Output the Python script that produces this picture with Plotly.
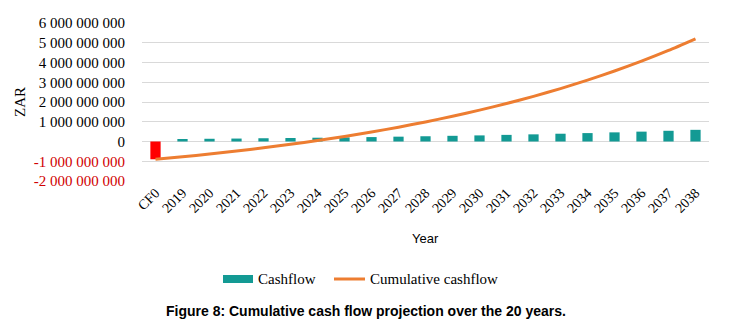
import plotly.graph_objects as go
import numpy as np

categories = ["CF0"] + [str(y) for y in range(2019, 2039)]
cashflow = [-0.90e9, 0.128e9, 0.138e9, 0.149e9, 0.165e9, 0.176e9, 0.192e9, 0.208e9,
            0.224e9, 0.245e9, 0.266e9, 0.288e9, 0.309e9, 0.335e9, 0.362e9, 0.394e9,
            0.426e9, 0.463e9, 0.500e9, 0.543e9, 0.591e9]
cumulative = list(np.cumsum(cashflow))
y_ticks = [-2e9, -1e9, 0, 1e9, 2e9, 3e9, 4e9, 5e9, 6e9]

TEAL = "#139A94"
ORANGE = "#ED7D31"
SERIF = "Liberation Serif, Times New Roman, serif"
SANS = "Liberation Sans, Arial, sans-serif"

def fmt(v):
    s = f"{abs(int(v)):,}".replace(",", " ")
    if v < 0:
        return f"<span style='color:#D00000'>-{s}</span>"
    return s

bar_colors = ["#FF0000" if v < 0 else TEAL for v in cashflow]

fig = go.Figure()
fig.add_trace(go.Bar(x=categories, y=cashflow, marker=dict(color=bar_colors, line=dict(width=0)),
                     name="Cashflow", showlegend=False))
fig.add_trace(go.Scatter(x=categories, y=cumulative, mode="lines",
                         line=dict(color=ORANGE, width=3, shape="spline", smoothing=0.6),
                         name="Cumulative cashflow", showlegend=False))

W, H = 735, 325
L, R, T, B = 142, 26, 23, 144
pw, ph = W - L - R, H - T - B

def px(x):
    return (x - L) / pw

def py(y):
    return (H - B - y) / ph

fig.update_layout(
    width=W, height=H,
    margin=dict(l=L, r=R, t=T, b=B, autoexpand=False),
    paper_bgcolor="white", plot_bgcolor="white",
    bargap=0.62,
    showlegend=False,
    xaxis=dict(tickangle=-45, tickfont=dict(family=SERIF, size=14, color="#000"),
               showgrid=False, showline=False, ticks="", zeroline=False, automargin=False),
    yaxis=dict(range=[-2e9, 6e9], tickvals=y_ticks, ticktext=[fmt(v) for v in y_ticks],
               tickfont=dict(family=SERIF, size=15, color="#000"),
               showgrid=True, gridcolor="#D9D9D9", gridwidth=1,
               zeroline=True, zerolinecolor="#D9D9D9", zerolinewidth=1,
               showline=False, ticks="", ticklabelstandoff=16, automargin=False),
    font=dict(family=SERIF),
)

def ann(text, x, y, size, family, xanchor="center", angle=0):
    return dict(text=text, x=px(x), y=py(y), xref="paper", yref="paper", showarrow=False,
                xanchor=xanchor, yanchor="middle", textangle=angle,
                font=dict(family=family, size=size, color="#000"))

annotations = [
    ann("ZAR", 20, 102, 15, SERIF, angle=-90),
    ann("Year", 425, 238, 13, SANS),
    ann("Cashflow", 256, 279, 15, SERIF, xanchor="left"),
    ann("Cumulative cashflow", 368, 279, 15, SERIF, xanchor="left"),
    ann("<b>Figure 8: Cumulative cash flow projection over the 20 years.</b>", 366, 311, 14, SANS),
]
fig.update_layout(annotations=annotations)

fig.add_shape(type="rect", xref="paper", yref="paper", x0=px(223), x1=px(253),
              y0=py(283), y1=py(275), fillcolor=TEAL, line=dict(width=0))
fig.add_shape(type="line", xref="paper", yref="paper", x0=px(334), x1=px(365),
              y0=py(279), y1=py(279), line=dict(color=ORANGE, width=3))

fig.write_html("out.html", config={"displayModeBar": False},
               post_script="document.body.style.margin='0';document.body.style.overflow='hidden';")
